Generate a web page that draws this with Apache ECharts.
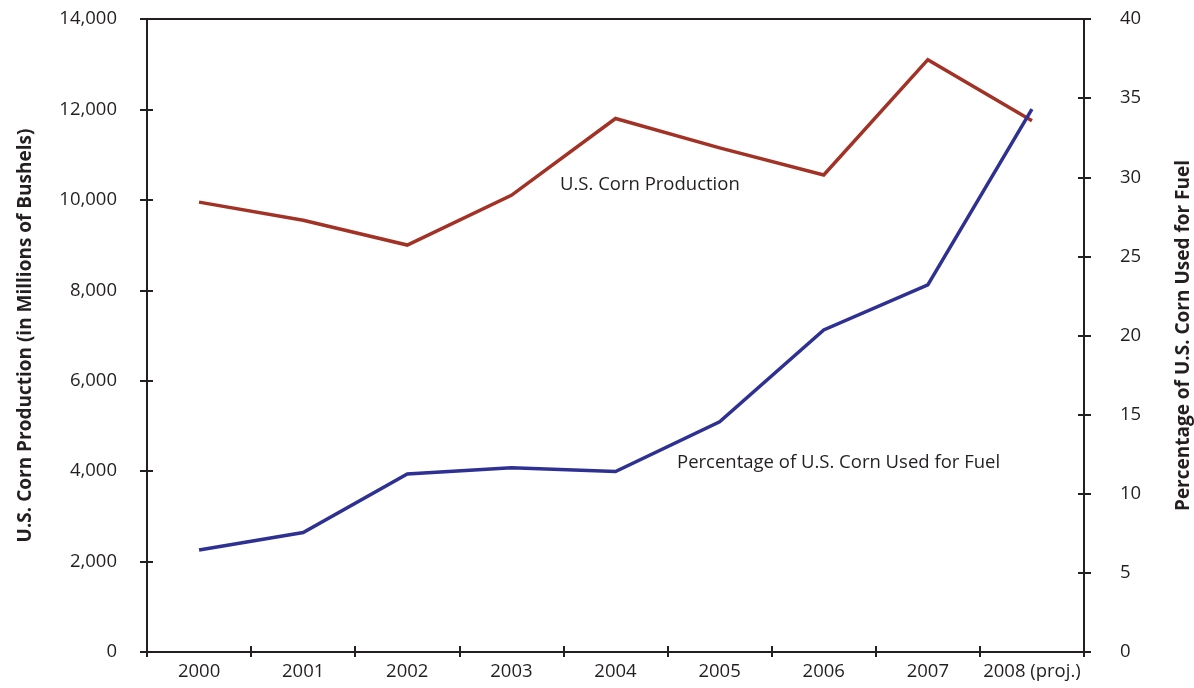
<!DOCTYPE html>
<html>
<head>
<meta charset="utf-8">
<script src="https://cdn.jsdelivr.net/npm/echarts@6/dist/echarts.min.js"></script>
<style>
  html, body { margin: 0; padding: 0; background: #fff; }
  #chart { width: 1194px; height: 688px; }
</style>
</head>
<body>
<div id="chart"></div>
<script>
// Years on the category axis
const years = ['2000', '2001', '2002', '2003', '2004', '2005', '2006', '2007', '2008 (proj.)'];
// U.S. corn production, millions of bushels (left axis)
const cornProduction = [9950, 9550, 9000, 10100, 11800, 11150, 10550, 13100, 11750];
// Share of U.S. corn used for fuel, percent (right axis)
const fuelShare = [6.45, 7.55, 11.25, 11.65, 11.4, 14.55, 20.35, 23.2, 34.3];
// Axis ranges
const productionTicks = { min: 0, max: 14000, interval: 2000 };
const shareTicks = { min: 0, max: 40, interval: 5 };

const ink = '#231f20';
const font = '"Open Sans", "Noto Sans", sans-serif';
const labelSize = 18.5;
const titleSize = 19;
const axisLine = { show: true, lineStyle: { color: ink, width: 2 } };

function valueAxis(range, pos, opts) {
  return Object.assign({
    type: 'value',
    position: pos,
    min: range.min, max: range.max, interval: range.interval,
    splitLine: { show: false },
    axisLine: axisLine,
  }, opts);
}

const chart = echarts.init(document.getElementById('chart'), null, { renderer: 'canvas' });
chart.setOption({
  backgroundColor: '#ffffff',
  animation: false,
  grid: {
    left: 147, right: 110, top: 19, bottom: 36,
    outerBoundsMode: 'none', containLabel: false,
    show: true, borderColor: ink, borderWidth: 2, backgroundColor: 'transparent'
  },
  xAxis: [
    {
      type: 'category', data: years, position: 'bottom', boundaryGap: true,
      axisLine: axisLine,
      axisTick: { show: true, interval: 0, length: 5, lineStyle: { color: ink, width: 2 } },
      axisLabel: { interval: 0, color: ink, fontFamily: font, fontSize: labelSize, margin: 10 }
    },
    {
      type: 'category', data: years, position: 'bottom', boundaryGap: true,
      axisLine: { show: false },
      axisTick: { show: true, interval: 0, inside: true, length: 6, lineStyle: { color: ink, width: 2 } },
      axisLabel: { show: false }
    }
  ],
  yAxis: [
    valueAxis(productionTicks, 'left', {
      name: 'U.S. Corn Production (in Millions of Bushels)',
      nameLocation: 'middle', nameRotate: 90, nameGap: 112,
      nameTextStyle: { color: ink, fontFamily: font, fontSize: titleSize, fontWeight: 'bold' },
      axisTick: { show: true, length: 7, lineStyle: { color: ink, width: 2 } },
      axisLabel: {
        color: ink, fontFamily: font, fontSize: labelSize, margin: 30,
        formatter: v => v.toLocaleString('en-US')
      }
    }),
    valueAxis(shareTicks, 'right', {
      name: 'Percentage of U.S. Corn Used for Fuel',
      nameLocation: 'middle', nameRotate: 90, nameGap: 90,
      nameTextStyle: { color: ink, fontFamily: font, fontSize: titleSize, fontWeight: 'bold' },
      axisTick: { show: true, length: 7, lineStyle: { color: ink, width: 2 } },
      axisLabel: { color: ink, fontFamily: font, fontSize: labelSize, margin: 36 }
    }),
    valueAxis(productionTicks, 'left', {
      axisLine: { show: false },
      axisTick: { show: true, inside: true, length: 6, lineStyle: { color: ink, width: 2 } },
      axisLabel: { show: false }
    }),
    valueAxis(shareTicks, 'right', {
      axisLine: { show: false },
      axisTick: { show: true, inside: true, length: 6, lineStyle: { color: ink, width: 2 } },
      axisLabel: { show: false }
    })
  ],
  series: [
    {
      name: 'U.S. Corn Production',
      type: 'line', xAxisIndex: 0, yAxisIndex: 0,
      data: cornProduction, symbol: 'none',
      lineStyle: { color: '#a23226', width: 3.5, join: 'miter' }
    },
    {
      name: 'Percentage of U.S. Corn Used for Fuel',
      type: 'line', xAxisIndex: 0, yAxisIndex: 1,
      data: fuelShare, symbol: 'none',
      lineStyle: { color: '#2e3192', width: 3.5, join: 'miter' }
    }
  ],
  graphic: [
    {
      type: 'text', left: 560, top: 175,
      style: { text: 'U.S. Corn Production', fill: ink, font: labelSize + 'px ' + font }
    },
    {
      type: 'text', left: 677, top: 453,
      style: { text: 'Percentage of U.S. Corn Used for Fuel', fill: ink, font: labelSize + 'px ' + font }
    }
  ]
});
</script>
</body>
</html>
